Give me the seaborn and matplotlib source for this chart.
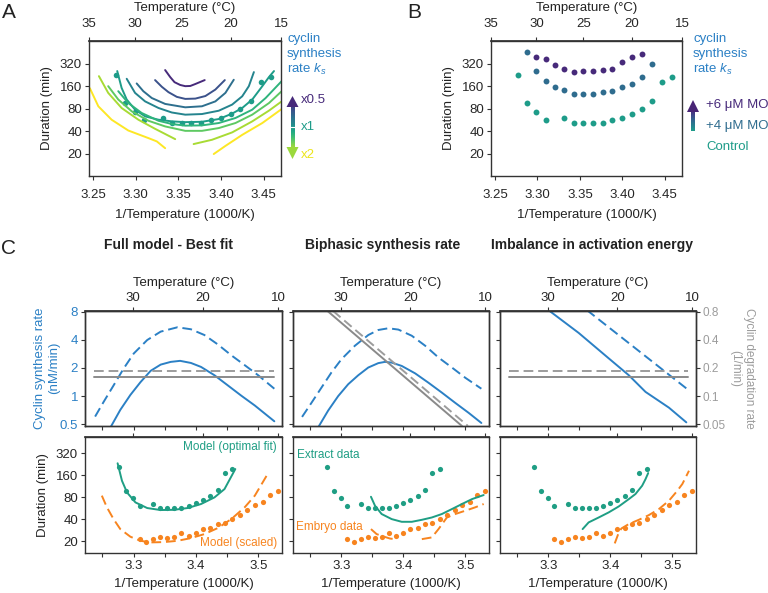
import numpy as np
import matplotlib
matplotlib.use("Agg")
import matplotlib.pyplot as plt
from matplotlib.patches import Polygon
from matplotlib.ticker import NullLocator
import seaborn as sns

# ---------------- data ----------------
# panel A: model contour lines (1000/T, duration in min), one list per segment
contour_level = [0, 1, 2, 3, 4, 5, 6, 7, 7, 8, 8]
contour_invt = [
    [3.3345, 3.3404, 3.3455, 3.3522, 3.3581, 3.3640, 3.3699, 3.3809],
    [3.3227, 3.3306, 3.3384, 3.3482, 3.3581, 3.3699, 3.3817, 3.3934, 3.4045],
    [3.3011, 3.3089, 3.3188, 3.3345, 3.3581, 3.3777, 3.3934, 3.4052, 3.4150],
    [3.2894, 3.2992, 3.3110, 3.3267, 3.3423, 3.3581, 3.3777, 3.3974, 3.4131, 3.4249, 3.4327, 3.4386],
    [3.2783, 3.2834, 3.2894, 3.2992, 3.3110, 3.3267, 3.3423, 3.3581, 3.3777, 3.3974, 3.4131, 3.4249,
     3.4367, 3.4485, 3.4563, 3.4622],
    [3.2795, 3.2913, 3.3070, 3.3267, 3.3423, 3.3581, 3.3777, 3.3974, 3.4170, 3.4367, 3.4524, 3.4712],
    [3.2677, 3.2795, 3.2953, 3.3149, 3.3345, 3.3581, 3.3777, 3.3974, 3.4170, 3.4367, 3.4563, 3.4712],
    [3.2568, 3.2677, 3.2834, 3.3031, 3.3227, 3.3463],
    [3.3679, 3.3895, 3.4131, 3.4367, 3.4563, 3.4712],
    [3.2462, 3.2561, 3.2717, 3.2913, 3.3149, 3.3247, 3.3345],
    [3.3915, 3.4052, 3.4249, 3.4485, 3.4712],
]
contour_dur = [
    [263, 212, 181, 166, 160, 161, 171, 193],
    [193, 157, 133, 115, 108, 109, 118, 144, 193],
    [174, 137, 111, 92.5, 83.3, 86, 100, 130, 195],
    [201, 130, 100, 81.6, 71, 66.4, 67.7, 75, 90.6, 117, 160, 247],
    [255, 152, 106, 77.5, 63, 56.8, 54, 52.7, 53.3, 58, 68.6, 81.6, 106, 160, 212, 255],
    [137, 95, 69.9, 55, 49.8, 47.3, 47.7, 51.3, 59.9, 77.5, 111, 187],
    [160, 106, 73.6, 55, 46.2, 40.3, 40.3, 43.9, 51.3, 66.4, 95, 137],
    [218, 130, 81.6, 56.8, 42.9, 31.2],
    [26.8, 30.6, 38.4, 54, 75.2, 100],
    [150, 86, 56.8, 40.7, 32.2, 29.1, 23.6],
    [19.7, 25.3, 35.6, 51.3, 79],
]

# panels A/B: extract data (temperature in C, duration in min)
temp_ctrl = [32, 31, 30, 29, 27, 26, 25, 24, 23, 22, 21, 20, 19, 18, 17, 16]
dur_ctrl = [229, 96, 73, 56, 60, 51, 51, 51, 51, 56, 60, 68, 79, 100, 180, 211]
temp_mo4 = [31, 30, 29, 28, 27, 26, 25, 24, 23, 22, 21, 20, 19, 18]
dur_mo4 = [455, 255, 189, 157, 141, 124, 124, 124, 133, 137, 157, 170, 211, 317]
temp_mo6 = [30, 29, 28, 27, 26, 25, 24, 23, 22, 21, 20, 19]
dur_mo6 = [394, 367, 304, 274, 247, 255, 252, 260, 274, 340, 394, 437]

# panel C, top row: cyclin synthesis (nM/min) and degradation (1/min) rates
syn1_dash_x = [3.2382, 3.2517, 3.2678, 3.2840, 3.3002, 3.3218, 3.3434, 3.3703, 3.3919, 3.4135,
               3.4351, 3.4566, 3.4782, 3.4998, 3.5257]
syn1_dash_y = [0.605, 0.864, 1.30, 1.97, 2.85, 3.97, 4.88, 5.43, 5.17, 4.49, 3.56, 2.73, 2.14, 1.67, 1.20]
syn1_solid_x = [3.2635, 3.2786, 3.2948, 3.3110, 3.3272, 3.3434, 3.3595, 3.3746, 3.3919, 3.4081,
                3.4297, 3.4512, 3.4728, 3.4944, 3.5257]
syn1_solid_y = [0.472, 0.713, 1.03, 1.41, 1.86, 2.17, 2.32, 2.38, 2.26, 2.05, 1.67, 1.30, 1.01, 0.794, 0.539]
syn2_dash_x = [3.2366, 3.2517, 3.2678, 3.2840, 3.3002, 3.3218, 3.3434, 3.3595, 3.3757, 3.3919,
               3.4135, 3.4351, 3.4566, 3.4782, 3.4998, 3.5257]
syn2_dash_y = [0.600, 0.847, 1.23, 1.79, 2.48, 3.45, 4.49, 5.08, 5.30, 5.13, 4.41, 3.45, 2.58, 2.02, 1.57, 1.20]
syn2_solid_x = [3.2635, 3.2786, 3.2948, 3.3110, 3.3272, 3.3434, 3.3595, 3.3703, 3.3811, 3.3973,
                3.4189, 3.4404, 3.4620, 3.4836, 3.5052, 3.5257]
syn2_solid_y = [0.475, 0.70, 1.0, 1.34, 1.67, 2.02, 2.25, 2.32, 2.28, 2.10, 1.75, 1.39, 1.09, 0.847, 0.663, 0.517]
syn3_solid_x = [3.3002, 3.3488, 3.3973, 3.4297, 3.4566, 3.4944, 3.5224]
syn3_solid_y = [8.27, 4.73, 2.53, 1.67, 1.11, 0.753, 0.525]
syn3_dash_x = [3.3622, 3.5224]
syn3_dash_y = [8.27, 1.21]

deg_flat_x = [3.237, 3.525]
deg_flat_dash = [0.184, 0.184]
deg_flat_solid = [0.160, 0.160]
deg2_solid_x = [3.2776, 3.4944]
deg2_solid_y = [0.81, 0.048]
deg2_dash_x = [3.2867, 3.5041]
deg2_dash_y = [0.81, 0.048]

# panel C, bottom row: durations (min)
extract_dur = [210, 97.6, 77.5, 61.5, 64.9, 56.6, 56.6, 56.6, 57.2, 61.5, 67.6, 72.8, 84.5, 102, 170, 195]
temp_embryo = [29, 28, 27, 26, 25, 24, 23, 22, 21, 20, 19, 18, 17, 16, 15, 14, 13, 12, 11, 10]
embryo_dur = [21.9, 19.4, 21.9, 23.2, 22.4, 23.2, 26.1, 23.9, 26.3, 29.5, 30.5, 34.6, 36.0, 40,
              45.4, 54.4, 63, 69.9, 85.2, 96.6]

fit1_x = [3.2743, 3.2813, 3.2894, 3.3029, 3.3218, 3.3434, 3.3649, 3.3865, 3.4081, 3.4297, 3.4458, 3.4631]
fit1_y = [234, 135, 93.4, 68.3, 57.2, 53.7, 54.1, 57.2, 64.9, 80, 104, 195]
scaled1_x = [3.2490, 3.2571, 3.2678, 3.2786, 3.2948, 3.3110, 3.3272, 3.3488, 3.3703, 3.3919,
             3.4135, 3.4351, 3.4566, 3.4782, 3.4944, 3.5133]
scaled1_y = [84.5, 58.6, 40.4, 29.5, 23.2, 20.4, 19.4, 19.6, 20.4, 22.2, 25.2, 30.5, 40.4, 58.6, 84.5, 158]
fit2_x = [3.3477, 3.3542, 3.3649, 3.3811, 3.3973, 3.4135, 3.4297, 3.4458, 3.4620, 3.4782, 3.4944, 3.5106, 3.5294]
fit2_y = [81.6, 61.5, 47.4, 40.4, 37.1, 37.1, 39.5, 42.5, 47.4, 55.4, 64.9, 75.8, 86.1]
scaled2a_x = [3.3477, 3.3568, 3.3676, 3.3784, 3.3865]
scaled2a_y = [29.5, 25.2, 23.4, 21.9, 21.5]
scaled2b_x = [3.4297, 3.4458, 3.4566, 3.4701, 3.4836, 3.4998, 3.5160, 3.5294]
scaled2b_y = [21.5, 22.7, 29.5, 42.5, 47.4, 52.6, 58.6, 64.9]
fit3_x = [3.3552, 3.3649, 3.3811, 3.3973, 3.4135, 3.4297, 3.4404, 3.4512, 3.4566, 3.4609]
fit3_y = [29.5, 36.4, 42.5, 49.9, 60.2, 75.8, 88.9, 115.6, 142, 172]
scaled3_x = [3.4070, 3.4135, 3.4178, 3.4297, 3.4458, 3.4620, 3.4782, 3.4944, 3.5079, 3.5160, 3.5267]
scaled3_y = [18.8, 26.5, 30.1, 34.6, 39.5, 45.8, 55.4, 72.1, 98.6, 122, 185]

dur_ticks = [20, 40, 80, 160, 320]

# ---------------- style ----------------
sns.set_theme(style="ticks")
plt.rcParams["font.family"] = ["Liberation Sans", "DejaVu Sans"]
plt.rcParams.update({
    "font.size": 9.5, "axes.labelsize": 9.5, "xtick.labelsize": 9.5, "ytick.labelsize": 9.5,
    "mathtext.fontset": "custom", "mathtext.rm": "Liberation Sans",
    "mathtext.it": "Liberation Sans:italic", "text.color": "#222222",
    "axes.labelcolor": "#222222",
})

vir = plt.get_cmap("viridis")
level_col = [0.12, 0.25, 0.36, 0.45, 0.55, 0.65, 0.75, 0.87, 1.0]
BLUE = "#2b80c5"
GREEN = "#1f9e84"
ORANGE = "#f7841f"
GRAY = "#8a8a8a"
GRAY_D = "#9c9c9c"
W, H = 768, 593


def inv_t(t):
    return 1000.0 / (np.asarray(t, dtype=float) + 273.15)


def k2c(x):
    x = np.asarray(x, dtype=float)
    with np.errstate(divide="ignore", invalid="ignore"):
        return 1000.0 / x - 273.15


def c2k(t):
    t = np.asarray(t, dtype=float)
    with np.errstate(divide="ignore", invalid="ignore"):
        return 1000.0 / (t + 273.15)


def box(left, top, right, bottom):
    return [left / W, 1 - bottom / H, (right - left) / W, (bottom - top) / H]


def style(ax, pad=2):
    for s in ax.spines.values():
        s.set_color("#333333")
        s.set_linewidth(1.0)
    ax.tick_params(direction="out", length=3, width=0.8, color="#333333", pad=pad)


def line(ax, x, y, color, dash=None, lw=1.4):
    sns.lineplot(x=x, y=y, ax=ax, color=color, linewidth=lw, sort=False,
                 estimator=None, legend=False)
    if dash:
        ax.lines[-1].set_dashes(dash)


def dots(ax, x, y, color, s=16):
    sns.scatterplot(x=x, y=y, ax=ax, color=color, s=s, linewidth=0, legend=False)


def log2_axis(ax, lo, hi, ticks, labels=True):
    ax.set_yscale("log", base=2)
    ax.set_ylim(lo, hi)
    ax.set_yticks(ticks)
    ax.set_yticklabels([f"{t:g}" for t in ticks] if labels else [])
    ax.yaxis.set_minor_locator(NullLocator())


def top_temp(ax, ticks, labels=True, title=True, pad=2, labelpad=4):
    sec = ax.secondary_xaxis("top", functions=(k2c, c2k))
    sec.set_xticks(ticks)
    sec.set_xticklabels([str(t) for t in ticks] if labels else [])
    sec.xaxis.set_minor_locator(NullLocator())
    sec.tick_params(direction="out", length=3, width=0.8, color="#333333", pad=pad)
    sec.spines["top"].set_color("#333333")
    if title:
        sec.set_xlabel("Temperature (°C)", labelpad=labelpad)
    return sec


fig = plt.figure(figsize=(7.68, 5.93), dpi=100)

# ---------------- panel A ----------------
axA = fig.add_axes(box(89, 41, 281, 176))
for lev, xs, ys in zip(contour_level, contour_invt, contour_dur):
    line(axA, xs, ys, vir(level_col[lev]))
dots(axA, inv_t(temp_ctrl), dur_ctrl, vir(0.55), s=16)

# ---------------- panel B ----------------
axB = fig.add_axes(box(491, 41, 682, 176))
dots(axB, inv_t(temp_ctrl), dur_ctrl, vir(0.55), s=18)
dots(axB, inv_t(temp_mo4), dur_mo4, vir(0.35), s=18)
dots(axB, inv_t(temp_mo6), dur_mo6, vir(0.12), s=18)

for ax in (axA, axB):
    style(ax, pad=2)
    ax.tick_params(axis="x", pad=6)
    ax.set_xlim(c2k(35), c2k(15))
    ax.set_xticks([3.25, 3.30, 3.35, 3.40, 3.45])
    ax.set_xticklabels(["3.25", "3.30", "3.35", "3.40", "3.45"])
    log2_axis(ax, 10, 645, dur_ticks)
    ax.set_xlabel("1/Temperature (1000/K)", labelpad=6)
    ax.set_ylabel("Duration (min)", labelpad=5)
    top_temp(ax, [35, 30, 25, 20, 15], pad=5, labelpad=5)

# ---------------- panel C ----------------
cols = [(85, 282), (293, 489), (500, 696)]
top_axes, bot_axes = [], []
for i, (l, r) in enumerate(cols):
    at = fig.add_axes(box(l, 311, r, 426))
    tw = at.twinx()
    ab = fig.add_axes(box(l, 437, r, 553))
    top_axes.append((at, tw))
    bot_axes.append(ab)

# column 1
at, tw = top_axes[0]
line(at, syn1_dash_x, syn1_dash_y, BLUE, dash=(5, 2.5))
line(at, syn1_solid_x, syn1_solid_y, BLUE)
line(tw, deg_flat_x, deg_flat_dash, GRAY_D, dash=(5, 2.5))
line(tw, deg_flat_x, deg_flat_solid, GRAY)
ab = bot_axes[0]
line(ab, fit1_x, fit1_y, GREEN)
line(ab, scaled1_x, scaled1_y, ORANGE, dash=(5, 2.5))
dots(ab, inv_t(temp_ctrl), extract_dur, GREEN, s=14)
dots(ab, inv_t(temp_embryo), embryo_dur, ORANGE, s=14)
ab.text(0.975, 0.915, "Model (optimal fit)", color=GREEN, fontsize=8.5,
        ha="right", va="center", transform=ab.transAxes)
ab.text(0.975, 0.085, "Model (scaled)", color=ORANGE, fontsize=8.5,
        ha="right", va="center", transform=ab.transAxes)

# column 2
at, tw = top_axes[1]
line(at, syn2_dash_x, syn2_dash_y, BLUE, dash=(5, 2.5))
line(at, syn2_solid_x, syn2_solid_y, BLUE)
line(tw, deg2_dash_x, deg2_dash_y, GRAY_D, dash=(5, 2.5))
line(tw, deg2_solid_x, deg2_solid_y, GRAY)
ab = bot_axes[1]
line(ab, fit2_x, fit2_y, GREEN)
line(ab, scaled2a_x, scaled2a_y, ORANGE, dash=(5, 2.5))
line(ab, scaled2b_x, scaled2b_y, ORANGE, dash=(5, 2.5))
dots(ab, inv_t(temp_ctrl), extract_dur, GREEN, s=14)
dots(ab, inv_t(temp_embryo), embryo_dur, ORANGE, s=14)
ab.text(0.02, 0.845, "Extract data", color=GREEN, fontsize=8.5,
        ha="left", va="center", transform=ab.transAxes)
ab.text(0.015, 0.225, "Embryo data", color=ORANGE, fontsize=8.5,
        ha="left", va="center", transform=ab.transAxes)

# column 3
at, tw = top_axes[2]
line(at, syn3_dash_x, syn3_dash_y, BLUE, dash=(5, 2.5))
line(at, syn3_solid_x, syn3_solid_y, BLUE)
line(tw, deg_flat_x, deg_flat_dash, GRAY_D, dash=(5, 2.5))
line(tw, deg_flat_x, deg_flat_solid, GRAY)
ab = bot_axes[2]
line(ab, fit3_x, fit3_y, GREEN)
line(ab, scaled3_x, scaled3_y, ORANGE, dash=(5, 2.5))
dots(ab, inv_t(temp_ctrl), extract_dur, GREEN, s=14)
dots(ab, inv_t(temp_embryo), embryo_dur, ORANGE, s=14)

x_ticks_c = [3.25, 3.30, 3.35, 3.40, 3.45, 3.50]
for i in range(3):
    at, tw = top_axes[i]
    ab = bot_axes[i]
    for ax in (at, tw, ab):
        style(ax)
        ax.set_xlim(3.222, 3.538)
        ax.set_xticks(x_ticks_c)
    at.set_xticklabels([])
    log2_axis(at, 0.48, 8.1, [0.5, 1, 2, 4, 8], labels=(i == 0))
    log2_axis(tw, 0.048, 0.81, [0.05, 0.1, 0.2, 0.4, 0.8], labels=(i == 2))
    if i != 2:
        tw.tick_params(right=False)
    top_temp(at, [30, 20, 10])
    log2_axis(ab, 13.9, 535, dur_ticks, labels=(i == 0))
    ab.set_xticklabels(["", "3.3", "", "3.4", "", "3.5"])
    ab.set_xlabel("1/Temperature (1000/K)", labelpad=4)
    top_temp(ab, [30, 20, 10], labels=False, title=False)
    for ax in (at, tw, ab):
        ax.set_ylabel("")

top_axes[0][0].tick_params(axis="y", labelcolor=BLUE)
top_axes[2][1].tick_params(axis="y", labelcolor=GRAY_D, labelsize=8.5)
bot_axes[0].set_ylabel("Duration (min)", labelpad=5)
fig.text(47 / W, 1 - 368 / H, "Cyclin synthesis rate\n(nM/min)", color=BLUE, rotation=90,
         ha="center", va="center", multialignment="center", linespacing=1.3, fontsize=9.5)
fig.text(742 / W, 1 - 368 / H, "Cyclin degradation rate\n(1/min)", color=GRAY_D, rotation=-90,
         ha="center", va="center", multialignment="center", linespacing=1.25, fontsize=8.5)

# ---------------- annotations ----------------
fig.text(9 / W, 1 - 12 / H, "A", fontsize=15, ha="center", va="center")
fig.text(414 / W, 1 - 12 / H, "B", fontsize=15, ha="center", va="center")
fig.text(9 / W, 1 - 248 / H, "C", fontsize=15, ha="center", va="center")
for xc, t in [(169, "Full model - Best fit"), (383, "Biphasic synthesis rate"),
              (592, "Imbalance in activation energy")]:
    fig.text(xc / W, 1 - 245 / H, t, fontsize=10, fontweight="bold", ha="center", va="center")

for xl in (287, 693):
    for yl, t in [(39, "cyclin"), (54, "synthesis"), (69, "rate $k_s$")]:
        fig.text(xl / W, 1 - yl / H, t, color=BLUE, ha="left", va="center", fontsize=9.5)

for yl, t, c in [(100, "x0.5", vir(0.12)), (127, "x1", vir(0.55)), (155, "x2", vir(0.97))]:
    fig.text(301 / W, 1 - yl / H, t, color=c, ha="left", va="center", fontsize=9.5)
for yl, t, c in [(105, "+6 μM MO", vir(0.12)), (126, "+4 μM MO", vir(0.35)), (147, "Control", vir(0.55))]:
    fig.text(706 / W, 1 - yl / H, t, color=c, ha="left", va="center", fontsize=9.5)

# gradient arrows (legend keys for A and B)
ov = fig.add_axes([0, 0, 1, 1])
ov.axis("off")
grad_a = np.linspace(0.2, 0.85, 64).reshape(-1, 1)
ov.imshow(grad_a, cmap="viridis", vmin=0, vmax=1, extent=(290.5, 294.5, 147, 107),
          aspect="auto", origin="upper", interpolation="bilinear")
ov.add_patch(Polygon([[286.5, 107], [298.5, 107], [292.5, 96]], closed=True, color=vir(0.12), lw=0))
ov.add_patch(Polygon([[286.5, 147], [298.5, 147], [292.5, 159]], closed=True, color=vir(0.85), lw=0))
ov.plot([290, 295], [127, 127], color="white", lw=0.8)
grad_b = np.linspace(0.15, 0.55, 64).reshape(-1, 1)
ov.imshow(grad_b, cmap="viridis", vmin=0, vmax=1, extent=(691, 695, 131, 112),
          aspect="auto", origin="upper", interpolation="bilinear")
ov.add_patch(Polygon([[687, 112], [699, 112], [693, 100]], closed=True, color=vir(0.1), lw=0))
ov.set_xlim(0, W)
ov.set_ylim(H, 0)

fig.savefig("out.png", dpi=100)
